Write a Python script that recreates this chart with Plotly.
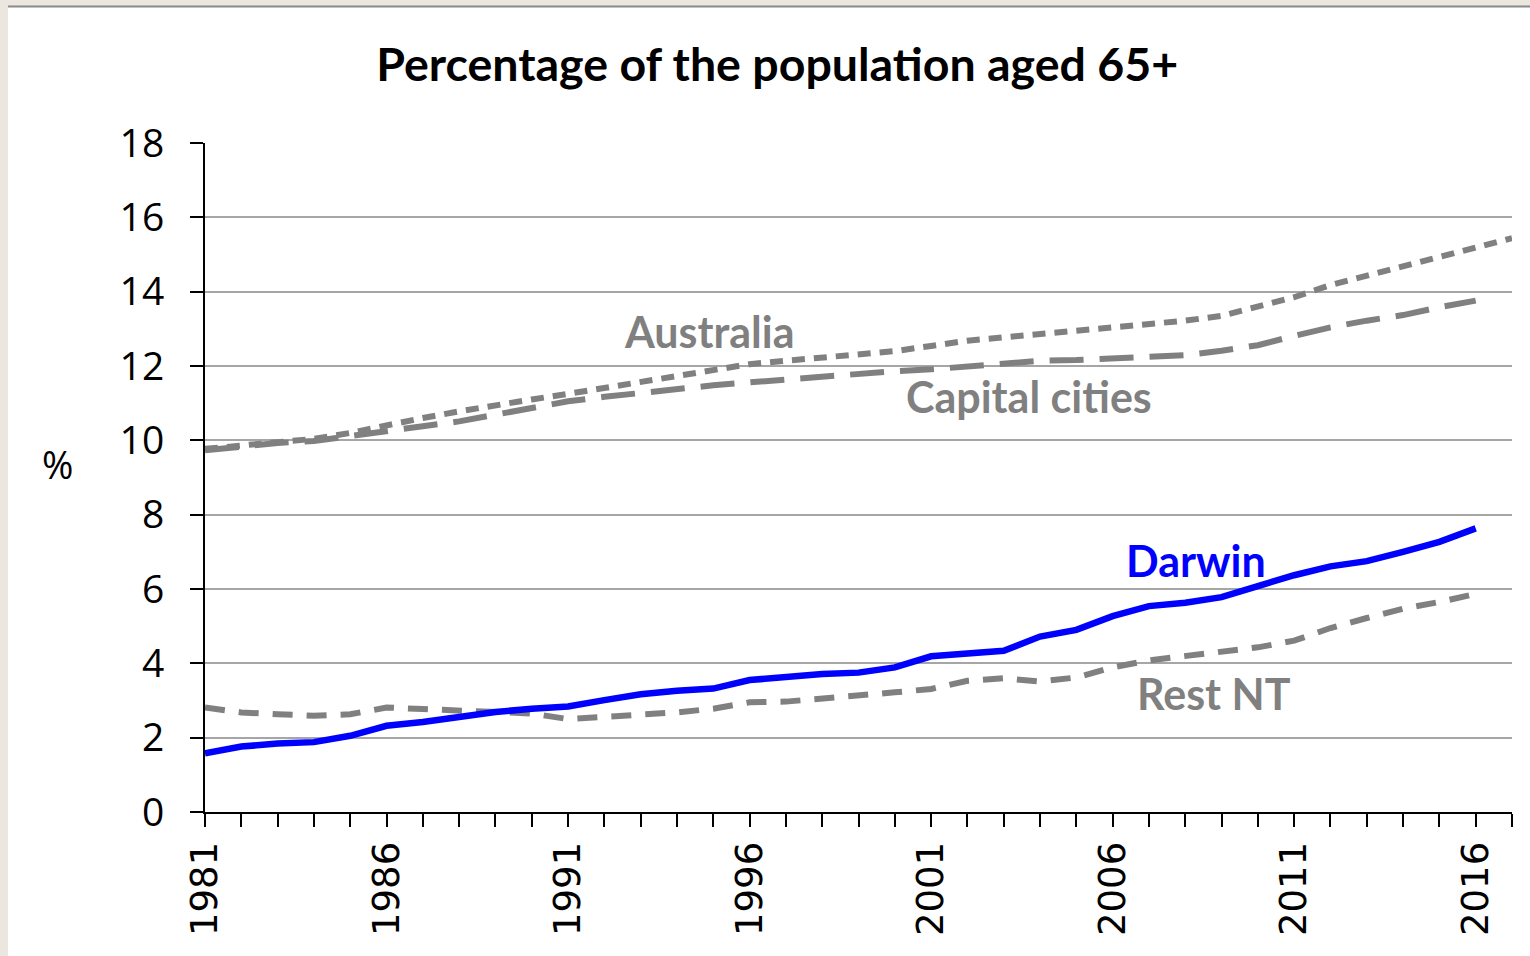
import plotly.graph_objects as go

years = list(range(1981, 2018))

australia = [9.77, 9.85, 9.93, 10.04, 10.2, 10.42, 10.6, 10.78, 10.92, 11.1,
             11.25, 11.41, 11.59, 11.77, 11.91, 12.05, 12.14, 12.23, 12.32, 12.4,
             12.54, 12.68, 12.77, 12.86, 12.95, 13.04, 13.15, 13.22, 13.35, 13.58,
             13.85, 14.18, 14.43, 14.7, 14.95, 15.2, 15.44]

capital_cities = [9.73, 9.84, 9.93, 9.98, 10.1, 10.24, 10.38, 10.51, 10.7, 10.87,
                  11.05, 11.17, 11.28, 11.39, 11.48, 11.56, 11.64, 11.7, 11.79, 11.86,
                  11.91, 12.0, 12.09, 12.14, 12.16, 12.2, 12.27, 12.29, 12.41, 12.56,
                  12.81, 13.04, 13.22, 13.37, 13.58, 13.76]

darwin = [1.58, 1.76, 1.84, 1.88, 2.05, 2.32, 2.42, 2.57, 2.69, 2.78,
          2.84, 3.01, 3.17, 3.26, 3.32, 3.55, 3.64, 3.71, 3.75, 3.89,
          4.19, 4.27, 4.34, 4.72, 4.9, 5.27, 5.54, 5.63, 5.78, 6.08,
          6.37, 6.61, 6.75, 7.0, 7.27, 7.63]

rest_nt = [2.81, 2.68, 2.63, 2.59, 2.63, 2.81, 2.77, 2.73, 2.7, 2.65,
           2.5, 2.56, 2.59, 2.68, 2.78, 2.95, 2.97, 3.04, 3.15, 3.22,
           3.31, 3.53, 3.6, 3.51, 3.62, 3.89, 4.08, 4.2, 4.28, 4.43,
           4.61, 4.95, 5.22, 5.47, 5.65, 5.87]

label_years = [1981, 1986, 1991, 1996, 2001, 2006, 2011, 2016]

grey = "#808080"
blue = "#0000ff"

fig = go.Figure()

fig.add_trace(go.Scatter(x=years[:len(rest_nt)], y=rest_nt, mode="lines", name="Rest NT",
                         line=dict(color=grey, width=6, dash="20px,14px")))
fig.add_trace(go.Scatter(x=years[:len(capital_cities)], y=capital_cities, mode="lines",
                         name="Capital cities",
                         line=dict(color=grey, width=6, dash="34px,16px")))
fig.add_trace(go.Scatter(x=years, y=australia, mode="lines", name="Australia",
                         line=dict(color=grey, width=6, dash="13px,9px")))
fig.add_trace(go.Scatter(x=years[:len(darwin)], y=darwin, mode="lines", name="Darwin",
                         line=dict(color=blue, width=6.5)))

# series labels
labels = [
    ("Australia", 1994.9, 12.92, grey),
    ("Capital cities", 2003.7, 11.18, grey),
    ("Darwin", 2008.3, 6.78, blue),
    ("Rest NT", 2008.8, 3.2, grey),
]
for txt, lx, ly, col in labels:
    fig.add_annotation(x=lx, y=ly, text="<b>%s</b>" % txt, showarrow=False,
                       xanchor="center", yanchor="middle",
                       font=dict(family="Lato", size=43, color=col))

fig.add_annotation(text="%", xref="paper", yref="paper", x=-0.126, y=0.52,
                   showarrow=False, font=dict(family="Open Sans", size=38, color="black"))

# white panel on beige page
fig.add_shape(type="rect", xref="paper", yref="paper",
              x0=-197 / 1307, x1=1 + 18 / 1307, y0=-144 / 669, y1=1 + 136 / 669,
              fillcolor="white", line=dict(width=0), layer="below")
fig.add_shape(type="line", xref="paper", yref="paper",
              x0=-197 / 1307, x1=1 + 18 / 1307, y0=1 + 136.5 / 669, y1=1 + 136.5 / 669,
              line=dict(color="#8a8a8a", width=2))

fig.update_layout(
    width=1530, height=956,
    margin=dict(l=205, r=18, t=143, b=144),
    paper_bgcolor="#ebe7df",
    plot_bgcolor="white",
    showlegend=False,
    title=dict(text="<b>Percentage of the population aged 65+</b>", x=0.508, xanchor="center",
               y=0.932, yanchor="middle",
               font=dict(family="Lato", size=46.5, color="black")),
)

fig.update_xaxes(range=[1981, 2017], tickmode="array", tickvals=label_years,
                 ticktext=[str(y) for y in label_years], tickangle=-90,
                 tickfont=dict(family="DejaVu Sans", size=37, color="black"),
                 ticks="outside", ticklen=13, tickcolor="black", tickwidth=1.5,
                 minor=dict(dtick=1, tick0=1981, ticks="outside", ticklen=13,
                            tickcolor="black", tickwidth=1.5, showgrid=False),
                 showline=True, linecolor="black", linewidth=2, showgrid=False,
                 zeroline=False)

fig.update_yaxes(range=[0, 18], dtick=2, tick0=0,
                 tickfont=dict(family="Open Sans", size=39, color="black"),
                 ticks="outside", ticklen=13, tickcolor="black", tickwidth=1.5,
                 ticklabelstandoff=18,
                 showline=True, linecolor="black", linewidth=2,
                 showgrid=True, gridcolor="#a6a6a6", gridwidth=1.5, zeroline=False)

fig.write_html("out.html", config={"displayModeBar": False},
               post_script="document.body.style.margin='0px';")
